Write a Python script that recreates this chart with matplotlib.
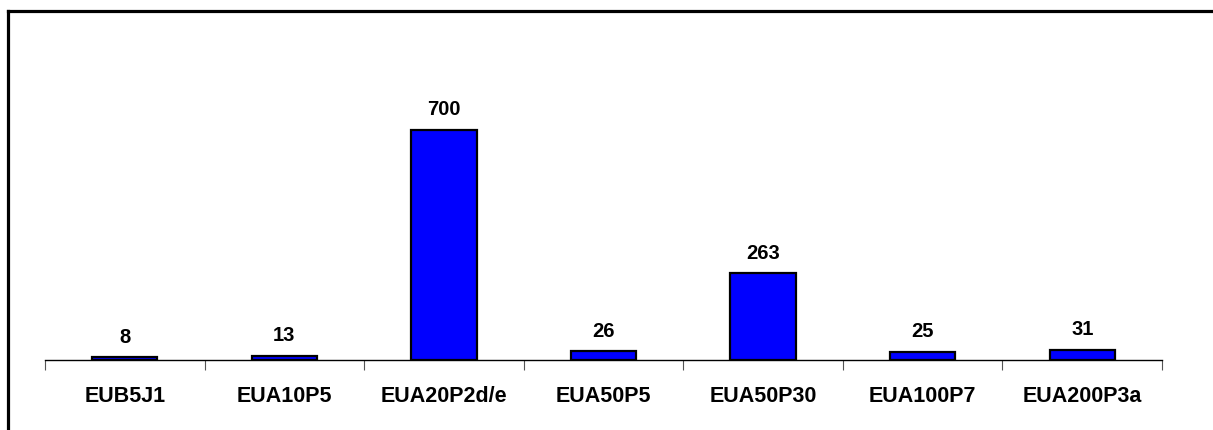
import matplotlib
matplotlib.use("Agg")
import matplotlib.pyplot as plt
from matplotlib.lines import Line2D

categories = ["EUB5J1", "EUA10P5", "EUA20P2d/e", "EUA50P5", "EUA50P30", "EUA100P7", "EUA200P3a"]
values = [8, 13, 700, 26, 263, 25, 31]

family = ["Liberation Sans", "DejaVu Sans"]

W, H = 1213, 430
fig = plt.figure(figsize=(W / 100, H / 100), dpi=100)
left, right, bottom, top = 45, 1162, 360, 31
ax = fig.add_axes([left / W, (H - bottom) / H, (right - left) / W, (bottom - top) / H])

x = list(range(len(categories)))
ax.bar(x, values, width=0.41, color="#0000FF", edgecolor="black", linewidth=1.6, zorder=3)

ax.set_xlim(-0.5, len(categories) - 0.5)
ax.set_ylim(0, 1000)

for spine in ["left", "right", "top"]:
    ax.spines[spine].set_visible(False)
ax.spines["bottom"].set_linewidth(1.0)
ax.set_yticks([])

# tick marks at category boundaries, labels centred under bars
ax.set_xticks([i - 0.5 for i in range(len(categories) + 1)])
ax.set_xticklabels([])
ax.tick_params(axis="x", which="major", length=7, width=0.8, color="#555555", direction="out")
ax.set_xticks(x, minor=True)
ax.set_xticklabels(categories, minor=True, fontsize=15.5, fontweight="bold", family=family)
ax.tick_params(axis="x", which="minor", length=0, pad=19)

for xi, v in zip(x, values):
    ax.annotate(str(v), (xi, v), xytext=(0, 7.5), textcoords="offset points",
                ha="center", va="bottom", fontsize=14.5, fontweight="bold", family=family)

# outer frame: top and left edges
fig.add_artist(Line2D([7.5 / W, 1.0], [(H - 10.5) / H, (H - 10.5) / H], color="black", linewidth=2.3,
                      transform=fig.transFigure))
fig.add_artist(Line2D([7.5 / W, 7.5 / W], [0, (H - 10.5) / H], color="black", linewidth=2.3,
                      transform=fig.transFigure, solid_capstyle="projecting"))

fig.savefig("out.png", dpi=100)
